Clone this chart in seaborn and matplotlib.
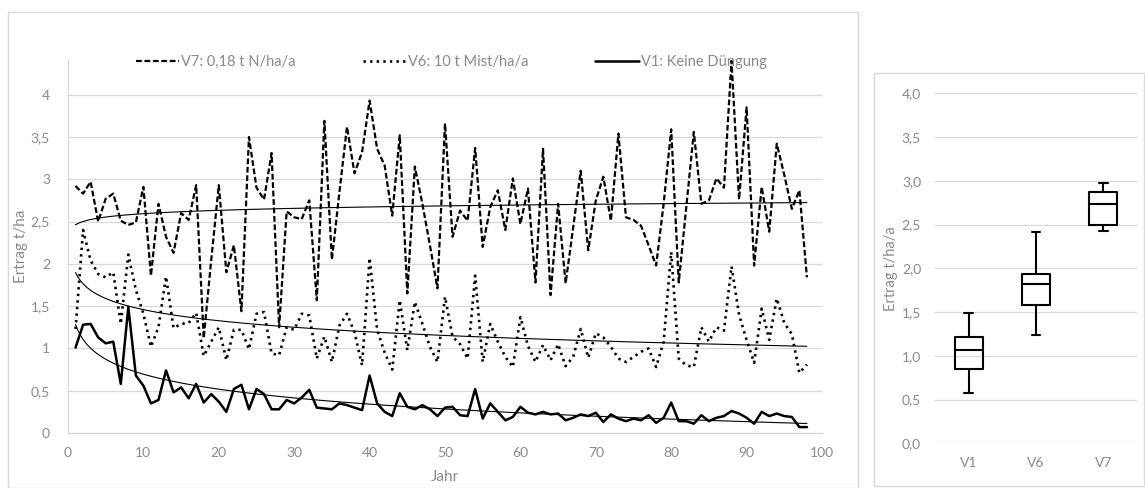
import numpy as np
import pandas as pd
import matplotlib
matplotlib.use("Agg")
import matplotlib.pyplot as plt
from matplotlib.patches import Rectangle
import seaborn as sns

# ---- data -------------------------------------------------------------
years = list(range(1, 99))

v1_keine = [1.01, 1.28, 1.29, 1.13, 1.06, 1.08, 0.58, 1.49, 0.68, 0.56,
            0.35, 0.39, 0.74, 0.48, 0.54, 0.41, 0.58, 0.36, 0.46, 0.37,
            0.25, 0.52, 0.57, 0.28, 0.52, 0.46, 0.28, 0.28, 0.39, 0.35,
            0.42, 0.51, 0.30, 0.29, 0.28, 0.35, 0.33, 0.30, 0.27, 0.68,
            0.35, 0.25, 0.20, 0.47, 0.31, 0.28, 0.33, 0.28, 0.20, 0.30,
            0.31, 0.21, 0.20, 0.52, 0.17, 0.35, 0.25, 0.15, 0.19, 0.31,
            0.24, 0.22, 0.25, 0.22, 0.23, 0.15, 0.18, 0.22, 0.20, 0.24,
            0.13, 0.22, 0.17, 0.14, 0.17, 0.15, 0.21, 0.12, 0.18, 0.36,
            0.14, 0.14, 0.11, 0.21, 0.14, 0.18, 0.20, 0.26, 0.23, 0.18,
            0.11, 0.25, 0.20, 0.23, 0.20, 0.19, 0.07, 0.07]

v6_mist = [1.23, 2.40, 2.04, 1.88, 1.84, 1.90, 1.29, 2.11, 1.69, 1.41,
           1.02, 1.25, 1.85, 1.24, 1.29, 1.30, 1.42, 0.91, 1.08, 1.25,
           0.86, 1.22, 1.22, 0.99, 1.41, 1.43, 0.94, 0.92, 1.25, 1.22,
           1.41, 1.39, 0.88, 1.14, 0.84, 1.27, 1.41, 1.19, 0.80, 2.07,
           1.22, 0.95, 0.75, 1.57, 0.98, 1.55, 1.29, 1.02, 0.84, 1.61,
           1.14, 1.05, 0.88, 1.86, 0.84, 1.29, 1.08, 0.90, 0.78, 1.37,
           1.03, 0.84, 1.04, 0.86, 1.05, 0.79, 0.90, 1.23, 0.89, 1.18,
           1.13, 1.02, 0.88, 0.84, 0.90, 0.96, 1.00, 0.78, 1.08, 2.14,
           0.88, 0.80, 0.78, 1.25, 1.08, 1.25, 1.21, 1.97, 1.40, 1.10,
           0.83, 1.47, 1.10, 1.59, 1.30, 1.17, 0.71, 0.81]

v7_stickstoff = [2.92, 2.83, 2.97, 2.50, 2.77, 2.83, 2.51, 2.46, 2.49, 2.91,
                 1.86, 2.71, 2.32, 2.13, 2.60, 2.52, 2.93, 1.12, 2.05, 2.93,
                 1.90, 2.22, 1.44, 3.50, 2.90, 2.76, 3.31, 1.25, 2.62, 2.55,
                 2.53, 2.75, 1.57, 3.69, 2.05, 2.85, 3.62, 3.07, 3.32, 3.93,
                 3.36, 3.16, 2.57, 3.52, 1.65, 3.15, 2.71, 2.22, 1.71, 3.66,
                 2.32, 2.63, 2.51, 3.37, 2.20, 2.67, 2.87, 2.40, 3.01, 2.47,
                 2.89, 1.78, 3.36, 1.63, 2.71, 1.77, 2.43, 3.10, 2.16, 2.75,
                 3.03, 2.51, 3.54, 2.55, 2.52, 2.45, 2.22, 1.98, 2.71, 3.59,
                 1.78, 2.67, 3.56, 2.71, 2.75, 3.01, 2.90, 4.40, 2.76, 3.85,
                 1.98, 2.91, 2.38, 3.42, 3.05, 2.65, 2.87, 1.84]

series_labels = ["V7: 0,18 t N/ha/a", "V6: 10 t Mist/ha/a", "V1: Keine Düngung"]

x_ticks = [0, 10, 20, 30, 40, 50, 60, 70, 80, 90, 100]
y_ticks_left = [0, 0.5, 1, 1.5, 2, 2.5, 3, 3.5, 4]
y_ticklabels_left = ["0", "0,5", "1", "1,5", "2", "2,5", "3", "3,5", "4"]

# box plot summary (t/ha/a)
box_labels = ["V1", "V6", "V7"]
box_whislo = [0.57, 1.24, 2.43]
box_q1 = [0.85, 1.58, 2.50]
box_med = [1.07, 1.82, 2.74]
box_q3 = [1.21, 1.93, 2.87]
box_whishi = [1.49, 2.41, 2.97]
y_ticks_right = [0.0, 0.5, 1.0, 1.5, 2.0, 2.5, 3.0, 3.5, 4.0]
y_ticklabels_right = ["0,0", "0,5", "1,0", "1,5", "2,0", "2,5", "3,0", "3,5", "4,0"]

# ---- style ------------------------------------------------------------
sns.set_theme(style="white")
plt.rcParams["font.family"] = ["Lato", "DejaVu Sans"]
TXT = "#8a8a8a"
GRID = "#d9d9d9"

fig = plt.figure(figsize=(11.45, 4.88), dpi=100)

# chart-area frames
fig.patches.append(Rectangle((8 / 1145, 0.0), 850 / 1145, 476 / 488,
                             transform=fig.transFigure, fill=False,
                             edgecolor=GRID, linewidth=1.0))
fig.patches.append(Rectangle((874 / 1145, 2 / 488), 270 / 1145, 413 / 488,
                             transform=fig.transFigure, fill=False,
                             edgecolor=GRID, linewidth=1.0))

# ---- left: yearly yields ---------------------------------------------
ax = fig.add_axes([68 / 1145, 1 - 433 / 488, 754 / 1145, 373 / 488])

df = pd.DataFrame({"Jahr": years, "V7": v7_stickstoff,
                   "V6": v6_mist, "V1": v1_keine})

styles = {
    "V7": dict(linestyle=(0, (2.6, 1.2)), linewidth=1.6),
    "V6": dict(linestyle=(0, (0.9, 1.6)), linewidth=1.9),
    "V1": dict(linestyle="-", linewidth=1.8),
}
for key, lab in zip(["V7", "V6", "V1"], series_labels):
    sns.lineplot(data=df, x="Jahr", y=key, ax=ax, color="black",
                 label=lab, **styles[key])

# logarithmic trend lines
xs = np.linspace(1, 98, 300)
for key in ["V7", "V6", "V1"]:
    a, b = np.polyfit(np.log(df["Jahr"]), df[key], 1)
    ax.plot(xs, a * np.log(xs) + b, color="black", linewidth=0.8)

ax.set_xlim(0, 100)
ax.set_ylim(0, 4.41)
ax.set_xticks(x_ticks)
ax.set_xticklabels([str(t) for t in x_ticks])
ax.set_yticks(y_ticks_left)
ax.set_yticklabels(y_ticklabels_left)
ax.tick_params(axis="x", colors=TXT, labelsize=10, length=0, pad=10)
ax.tick_params(axis="y", colors=TXT, labelsize=10, length=0, pad=13)
ax.grid(axis="y", color=GRID, linewidth=0.9)
for side in ["top", "right"]:
    ax.spines[side].set_visible(False)
for side in ["left", "bottom"]:
    ax.spines[side].set_color(GRID)
    ax.spines[side].set_linewidth(0.9)
ax.set_xlabel("Jahr", color=TXT, fontsize=11, labelpad=8)
ax.set_ylabel("Ertrag t/ha", color=TXT, fontsize=11)
ax.yaxis.set_label_coords(-0.053, 0.5)

handles, labels = ax.get_legend_handles_labels()
if ax.get_legend() is not None:
    ax.get_legend().remove()
leg = fig.legend(handles[:3], labels[:3], loc="center",
                 bbox_to_anchor=(451 / 1145, 1 - 62 / 488), ncol=3,
                 frameon=False, fontsize=10.5, handlelength=3.0,
                 handletextpad=0.1, columnspacing=4.6)
for t in leg.get_texts():
    t.set_color(TXT)

# ---- right: box plot --------------------------------------------------
axb = fig.add_axes([935 / 1145, 1 - 443.3 / 488, 202 / 1145, 350 / 488])
stats = [dict(label=l, whislo=lo, q1=q1, med=m, q3=q3, whishi=hi, fliers=[])
         for l, lo, q1, m, q3, hi in zip(box_labels, box_whislo, box_q1,
                                         box_med, box_q3, box_whishi)]
line_kw = dict(color="black", linewidth=1.5)
axb.bxp(stats, positions=[0, 1, 2], widths=0.42, showfliers=False,
        boxprops=line_kw, medianprops=line_kw, whiskerprops=line_kw,
        capprops=line_kw, capwidths=0.13)
axb.set_xlim(-0.5, 2.5)
axb.set_ylim(0, 4.0)
axb.set_yticks(y_ticks_right)
axb.set_yticklabels(y_ticklabels_right)
axb.grid(axis="y", color=GRID, linewidth=0.9)
axb.set_axisbelow(True)
for side in axb.spines:
    axb.spines[side].set_visible(False)
axb.tick_params(axis="both", colors=TXT, labelsize=10, length=0, pad=10)
axb.set_ylabel("Ertrag t/ha/a", color=TXT, fontsize=10.5)
axb.yaxis.set_label_coords(-0.185, 0.5)

fig.savefig("out.png", dpi=100)
